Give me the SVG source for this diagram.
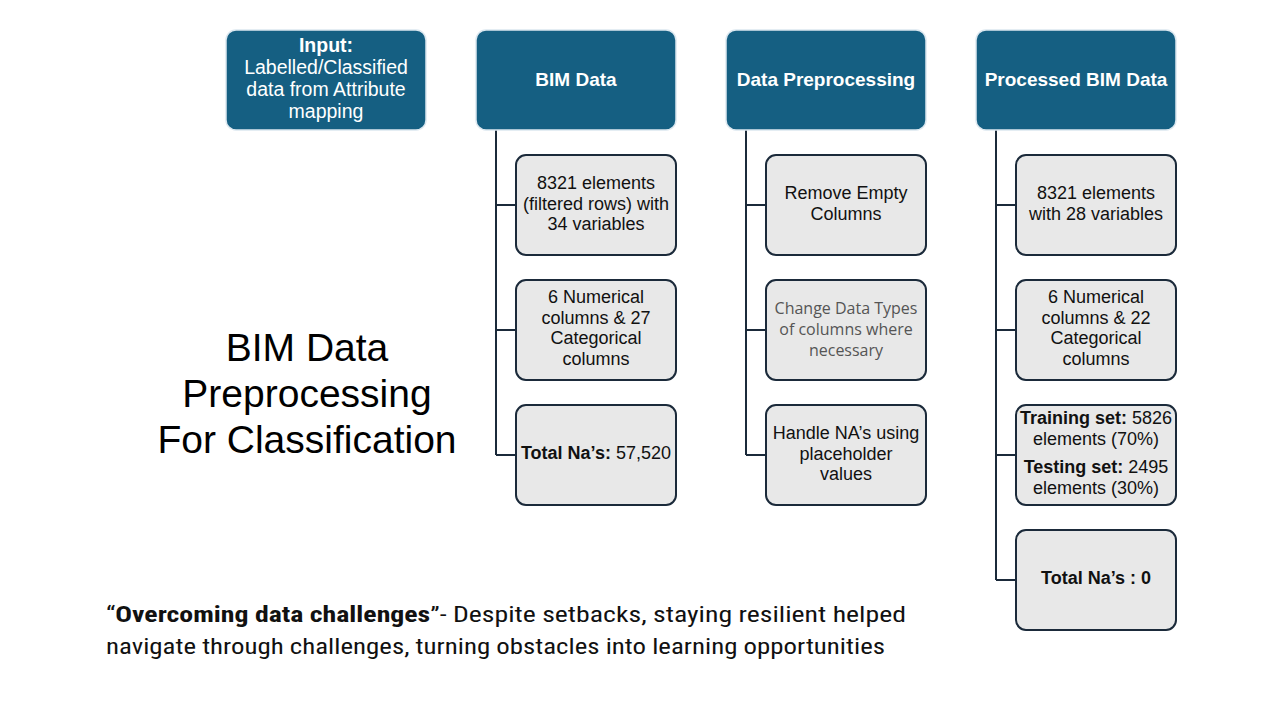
<svg xmlns="http://www.w3.org/2000/svg" width="1280" height="720" viewBox="0 0 1280 720">
<style>
.hdr{fill:#155F82;stroke:#dbe7ef;stroke-width:1.5}
.sub{fill:#e8e8e8;stroke:#1b2a3a;stroke-width:2}
.conn{fill:none;stroke:#1b2a3a;stroke-width:2}
.ht{font-family:"Liberation Sans",Arial,sans-serif;font-size:19px;font-weight:bold;fill:#ffffff;text-anchor:middle}
.it{font-family:"Liberation Sans",Arial,sans-serif;font-size:19.5px;fill:#ffffff;text-anchor:middle}
.st{font-family:"Liberation Sans",Arial,sans-serif;font-size:18px;fill:#111111;text-anchor:middle}
.gt{font-family:"Open Sans","Liberation Sans",sans-serif;font-size:16px;fill:#555555;text-anchor:middle}
.b{font-weight:bold}
.title{font-family:"Liberation Sans",Arial,sans-serif;font-size:39px;fill:#000000;text-anchor:middle}
.note{font-family:"Liberation Sans Narrow","Roboto Condensed","Liberation Sans",sans-serif;font-size:22px;fill:#111111}
</style>
<rect width="1280" height="720" fill="#ffffff"/>
<g id="connectors">
<path class="conn" d="M496 130V455M496 205H516M496 330H516M496 455H516"/>
<path class="conn" d="M746 130V455M746 205H766M746 330H766M746 455H766"/>
<path class="conn" d="M996 130V580M996 205H1016M996 330H1016M996 455H1016M996 580H1016"/>
</g>
<g id="input">
<rect class="hdr" x="226" y="30" width="200" height="100" rx="10"/>
<text class="it"><tspan x="326" y="52" class="b">Input:</tspan><tspan x="326" y="74">Labelled/Classified</tspan><tspan x="326" y="96">data from Attribute</tspan><tspan x="326" y="118">mapping</tspan></text>
</g>
<g id="bim-data">
<rect class="hdr" x="476" y="30" width="200" height="100" rx="10"/>
<text class="ht" x="576" y="86">BIM Data</text>
</g>
<g id="data-preprocessing">
<rect class="hdr" x="726" y="30" width="200" height="100" rx="10"/>
<text class="ht" x="826" y="86">Data Preprocessing</text>
</g>
<g id="processed-bim-data">
<rect class="hdr" x="976" y="30" width="200" height="100" rx="10"/>
<text class="ht" x="1076" y="86">Processed BIM Data</text>
</g>
<g id="bim-elements">
<rect class="sub" x="516" y="155" width="160" height="100" rx="10"/>
<text class="st"><tspan x="596" y="189">8321 elements</tspan><tspan x="596" y="210">(filtered rows) with</tspan><tspan x="596" y="230">34 variables</tspan></text>
</g>
<g id="bim-columns">
<rect class="sub" x="516" y="280" width="160" height="100" rx="10"/>
<text class="st"><tspan x="596" y="303">6 Numerical</tspan><tspan x="596" y="324">columns &amp; 27</tspan><tspan x="596" y="344">Categorical</tspan><tspan x="596" y="365">columns</tspan></text>
</g>
<g id="bim-na">
<rect class="sub" x="516" y="405" width="160" height="100" rx="10"/>
<text class="st" x="596" y="459"><tspan class="b">Total Na’s:</tspan> 57,520</text>
</g>
<g id="remove-empty">
<rect class="sub" x="766" y="155" width="160" height="100" rx="10"/>
<text class="st"><tspan x="846" y="199">Remove Empty</tspan><tspan x="846" y="220">Columns</tspan></text>
</g>
<g id="change-types">
<rect class="sub" x="766" y="280" width="160" height="100" rx="10"/>
<text class="gt"><tspan x="846" y="314">Change Data Types</tspan><tspan x="846" y="335">of columns where</tspan><tspan x="846" y="356">necessary</tspan></text>
</g>
<g id="handle-na">
<rect class="sub" x="766" y="405" width="160" height="100" rx="10"/>
<text class="st"><tspan x="846" y="439">Handle NA’s using</tspan><tspan x="846" y="460">placeholder</tspan><tspan x="846" y="480">values</tspan></text>
</g>
<g id="proc-elements">
<rect class="sub" x="1016" y="155" width="160" height="100" rx="10"/>
<text class="st"><tspan x="1096" y="199">8321 elements</tspan><tspan x="1096" y="220">with 28 variables</tspan></text>
</g>
<g id="proc-columns">
<rect class="sub" x="1016" y="280" width="160" height="100" rx="10"/>
<text class="st"><tspan x="1096" y="303">6 Numerical</tspan><tspan x="1096" y="324">columns &amp; 22</tspan><tspan x="1096" y="344">Categorical</tspan><tspan x="1096" y="365">columns</tspan></text>
</g>
<g id="proc-split">
<rect class="sub" x="1016" y="405" width="160" height="100" rx="10"/>
<text class="st"><tspan x="1096" y="424"><tspan class="b">Training set:</tspan> 5826</tspan><tspan x="1096" y="445">elements (70%)</tspan><tspan x="1096" y="473"><tspan class="b">Testing set:</tspan> 2495</tspan><tspan x="1096" y="494">elements (30%)</tspan></text>
</g>
<g id="proc-na">
<rect class="sub" x="1016" y="530" width="160" height="100" rx="10"/>
<text class="st b" x="1096" y="584">Total Na’s : 0</text>
</g>
<g id="title">
<text class="title"><tspan x="307" y="361">BIM Data</tspan><tspan x="307" y="407">Preprocessing</tspan><tspan x="307" y="453">For Classification</tspan></text>
</g>
<g id="note">
<text class="note" x="106" y="622" textLength="800" lengthAdjust="spacingAndGlyphs">“<tspan class="b">Overcoming data challenges</tspan>”- Despite setbacks, staying resilient helped</text>
<text class="note" x="106" y="654" textLength="779" lengthAdjust="spacingAndGlyphs">navigate through challenges, turning obstacles into learning opportunities</text>
</g>
</svg>
